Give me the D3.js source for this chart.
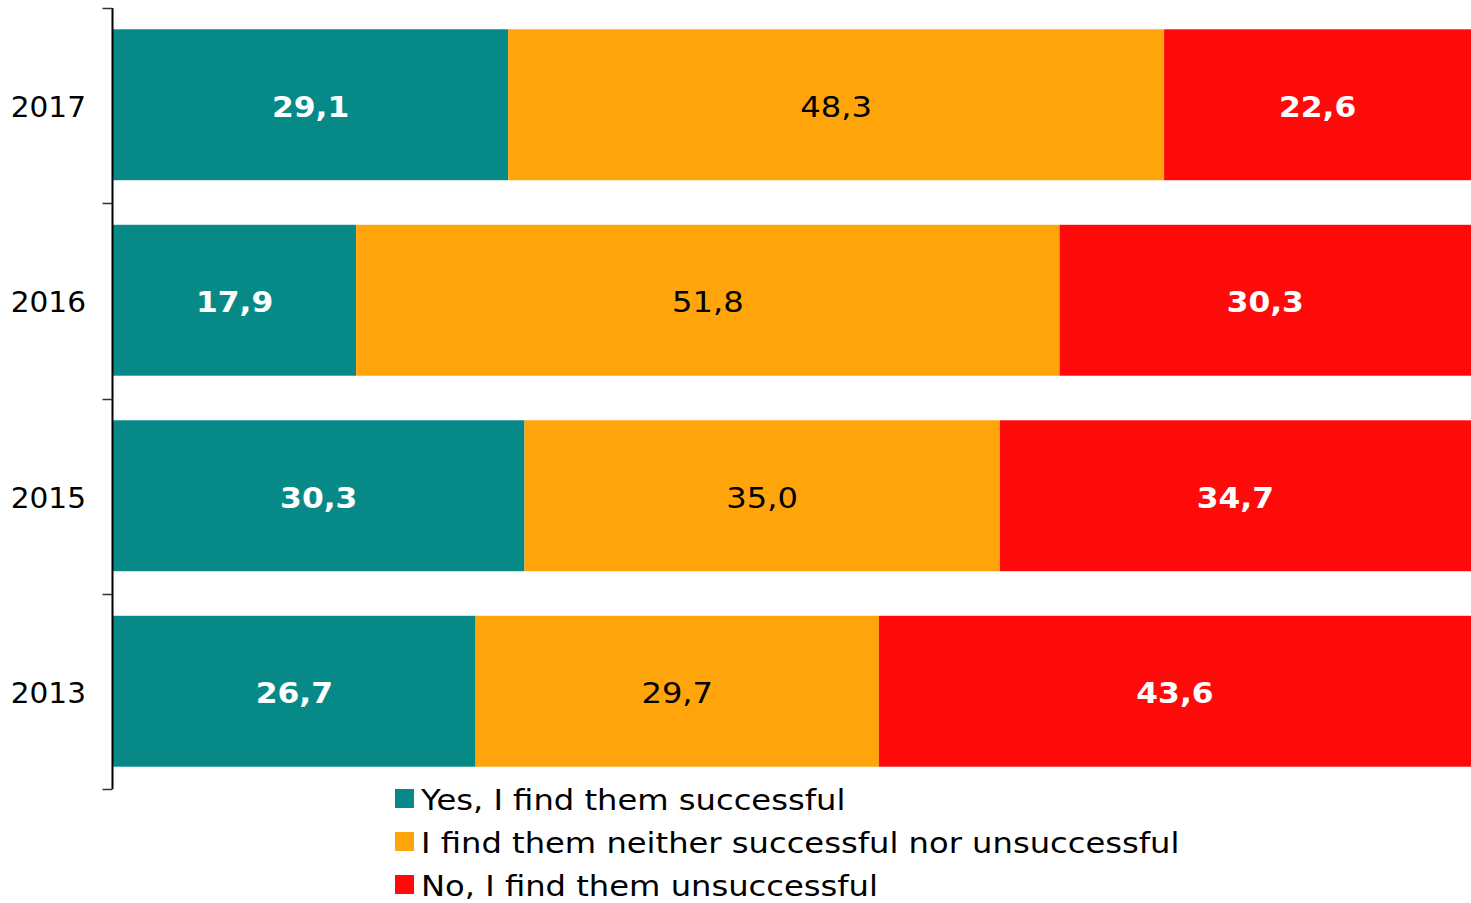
<!DOCTYPE html>
<html><head><meta charset="utf-8">
<script src="https://cdn.jsdelivr.net/npm/d3@7"></script>
<style>body{margin:0;background:#fff}svg{display:block}text{font-family:"DejaVu Sans",Verdana,sans-serif}</style>
</head><body><svg id="c" width="1471" height="903"></svg>
<script>
const categories = ["2017","2016","2015","2013"];
const seriesNames = ["Yes, I find them successful","I find them neither successful nor unsuccessful","No, I find them unsuccessful"];
const yesValues = [29.1,17.9,30.3,26.7];
const neitherValues = [48.3,51.8,35.0,29.7];
const noValues = [22.6,30.3,34.7,43.6];
const colors = ["#078A87","#FFA40A","#FF0A0A"];

const svg = d3.select("#c");
const x = d3.scaleLinear().domain([0,100]).range([113,1471]);
const y = d3.scaleBand().domain(categories).range([7,789]).paddingInner(0.228).paddingOuter(0.114);
const rows = categories.map((c,i)=>({cat:c, vals:[yesValues[i],neitherValues[i],noValues[i]]}));
const fmt = v => d3.format(".1f")(v).replace(".",",");

function label(parent, tx, ty, sx, txt){
  return parent.append("g").attr("transform",`translate(${tx},${ty}) scale(${sx},1)`)
    .append("text").attr("x",0).attr("y",0).attr("dy","0.36em").text(txt);
}

rows.forEach(r=>{
  let acc=0;
  r.vals.forEach((v,j)=>{
    const x0=x(acc), x1=x(acc+v);
    svg.append("rect").attr("x",x0).attr("y",y(r.cat)).attr("width",x1-x0).attr("height",y.bandwidth()).attr("fill",colors[j]);
    label(svg,(x0+x1)/2,y(r.cat)+y.bandwidth()/2+1.5, j===1?1.11:1.08, fmt(v))
      .attr("text-anchor","middle").attr("font-size",29)
      .attr("font-weight", j===1?"normal":"bold")
      .attr("fill", j===1?"#000":"#fff");
    acc+=v;
  });
});

// axis
const ax = svg.append("g").attr("transform","translate(112.5,0)");
ax.append("line").attr("x1",0).attr("x2",0).attr("y1",8).attr("y2",789).attr("stroke","#000").attr("stroke-width",2);
const edges = d3.range(categories.length+1).map(i=>8+i*(781/categories.length));
edges.forEach(t=>ax.append("line").attr("x1",-10).attr("x2",0).attr("y1",Math.round(t)+0.5).attr("y2",Math.round(t)+0.5).attr("stroke","#333").attr("stroke-width",1.5));
categories.forEach(c=>{
  label(svg,86,y(c)+y.bandwidth()/2+1.5,1.02,c).attr("text-anchor","end").attr("font-size",29).attr("fill","#000");
});

// legend
const lg = svg.append("g");
seriesNames.forEach((n,i)=>{
  const cy = 798.5 + i*43;
  lg.append("rect").attr("x",395).attr("y",cy-9.5).attr("width",19).attr("height",19).attr("fill",colors[i]);
  label(lg,421,cy+1.5,1.11,n).attr("font-size",29).attr("fill","#000");
});
</script></body></html>
